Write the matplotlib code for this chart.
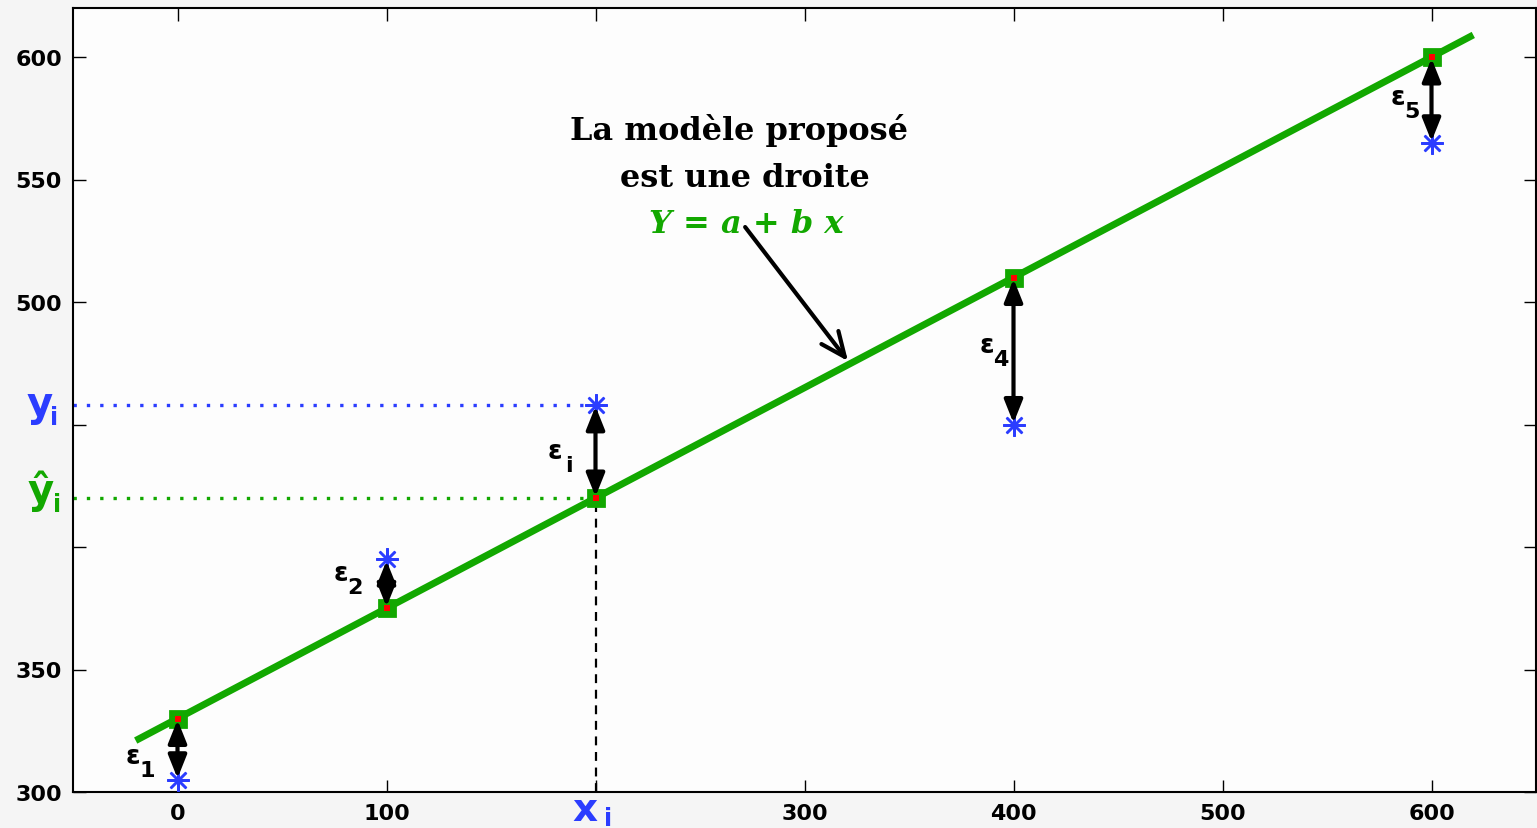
import matplotlib
matplotlib.use('Agg')
import matplotlib.pyplot as plt

# observed points, fitted points and the regression line
x_obs = [0, 100, 200, 400, 600]
y_obs = [305, 395, 458, 450, 565]
y_fit = [330, 375, 420, 510, 600]
line_x = [-20, 620]
line_y = [321, 609]
eps_names = ['1', '2', 'i', '4', '5']

x_ticks = [0, 100, 200, 300, 400, 500, 600]
x_ticklabels = ['0', '100', '', '300', '400', '500', '600']
y_ticks = [300, 350, 400, 450, 500, 550, 600]
y_ticklabels = ['300', '350', '', '', '500', '550', '600']
i_idx = 2  # the point shown as (x_i, y_i)

green = '#12a800'
blue = '#2b3dff'
SANS = 'DejaVu Sans'
SERIF = 'DejaVu Serif'

fig = plt.figure(figsize=(15.37, 8.29), dpi=100, facecolor='#f5f5f5')
ax = fig.add_axes([73 / 1537, 36 / 829, 1463 / 1537, 784 / 829])
ax.set_facecolor('#fdfdfd')
ax.set_xlim(-50, 650)
ax.set_ylim(300, 620)

# dotted guides for y_i and y_hat_i, dashed for x_i
xi = x_obs[i_idx]
ax.plot([-50, xi], [y_obs[i_idx]] * 2, color=blue, lw=2.4, ls=(0, (1, 3)), zorder=2)
ax.plot([-50, xi], [y_fit[i_idx]] * 2, color=green, lw=2.4, ls=(0, (1, 3)), zorder=2)
ax.plot([xi, xi], [300, y_fit[i_idx]], color='black', lw=1.6, ls=(0, (4, 3)), zorder=2)

# model line + fitted points
ax.plot(line_x, line_y, color=green, lw=5, solid_capstyle='butt', zorder=3)
ax.plot(x_obs, y_fit, 's', ms=11, mfc=green, mec=green, mew=2, zorder=4)
ax.plot(x_obs, y_fit, 's', ms=5, mfc='red', mew=0, zorder=5)

# observed points
ax.plot(x_obs, y_obs, ls='none', marker=(8, 2, 0), ms=16, mew=1.8, color=blue, zorder=5)

# residual arrows + epsilon labels
eps_offsets = [(-32, -5), (-33, 8), (-29, 0), (-19, 4), (-24, 2)]
for k in range(len(x_obs)):
    ax.annotate('', xy=(x_obs[k], y_obs[k]), xytext=(x_obs[k], y_fit[k]),
                arrowprops=dict(arrowstyle='<|-|>,head_length=0.7,head_width=0.28',
                                color='black', lw=3, mutation_scale=20,
                                shrinkA=1, shrinkB=1), zorder=6)
    mid = (y_obs[k] + y_fit[k]) / 2
    dx, dy = eps_offsets[k]
    ax.annotate('ε', xy=(x_obs[k], mid), xytext=(dx, dy), textcoords='offset points',
                ha='center', va='center', fontsize=19, fontweight='bold', family=SANS)
    ax.annotate(eps_names[k], xy=(x_obs[k], mid), xytext=(dx + 10, dy - 10),
                textcoords='offset points', ha='center', va='center',
                fontsize=16, fontweight='bold', family=SANS)

# model text
ax.text(268.7, 566.5, 'La modèle proposé', ha='center', va='baseline',
        fontsize=23, fontweight='bold', family=SERIF)
ax.text(271.6, 547.3, 'est une droite', ha='center', va='baseline',
        fontsize=23, fontweight='bold', family=SERIF)
ax.text(272.3, 528.6, 'Y = a + b x', ha='center', va='baseline', color=green,
        fontsize=23, fontweight='bold', family=SERIF, style='italic')
ax.annotate('', xy=(320.8, 475.9), xytext=(271.6, 530.6),
            arrowprops=dict(arrowstyle='->,head_length=0.8,head_width=0.35',
                            color='black', lw=3, mutation_scale=22,
                            shrinkA=0, shrinkB=0), zorder=6)

# axes styling
for s in ax.spines.values():
    s.set_linewidth(1.5)
ax.set_xticks(x_ticks)
ax.set_xticklabels(x_ticklabels)
ax.set_yticks(y_ticks)
ax.set_yticklabels(y_ticklabels)
ax.tick_params(direction='in', length=9, width=1, top=True, right=True,
               labelsize=16)
ax.tick_params(axis='x', pad=8)
ax.tick_params(axis='y', pad=8)
for lab in ax.get_xticklabels() + ax.get_yticklabels():
    lab.set_fontweight('bold')
    lab.set_family(SANS)

# x_i, y_i, y_hat_i labels outside the axes
xt = ax.get_xaxis_transform()
yt = ax.get_yaxis_transform()
ax.text(189, -0.0355, 'x', transform=xt, ha='left', va='baseline', color=blue,
        fontsize=28, fontweight='bold', family=SANS, clip_on=False)
ax.text(204, -0.0425, 'i', transform=xt, ha='left', va='baseline', color=blue,
        fontsize=17, fontweight='bold', family=SANS, clip_on=False)
ax.text(-0.032, 453.9, 'y', transform=yt, ha='left', va='baseline', color=blue,
        fontsize=29, fontweight='bold', family=SANS, clip_on=False)
ax.text(-0.016, 450.2, 'i', transform=yt, ha='left', va='baseline', color=blue,
        fontsize=17, fontweight='bold', family=SANS, clip_on=False)
ax.text(-0.031, 418.4, 'ŷ', transform=yt, ha='left', va='baseline', color=green,
        fontsize=29, fontweight='bold', family=SANS, clip_on=False)
ax.text(-0.014, 414.7, 'i', transform=yt, ha='left', va='baseline', color=green,
        fontsize=17, fontweight='bold', family=SANS, clip_on=False)

fig.savefig('out.png', dpi=100, facecolor=fig.get_facecolor())
